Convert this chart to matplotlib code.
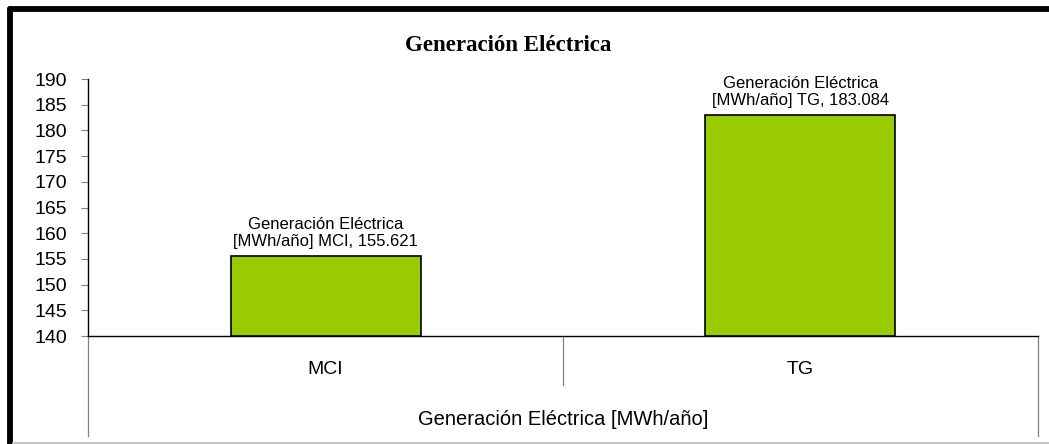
import matplotlib
matplotlib.use('Agg')
import matplotlib.pyplot as plt
from matplotlib.lines import Line2D

# Data
categories = ['MCI', 'TG']
generation = [155.621, 183.084]
y_ticks = [140, 145, 150, 155, 160, 165, 170, 175, 180, 185, 190]
series_name = 'Generación Eléctrica [MWh/año]'

plt.rcParams['font.family'] = ['Liberation Sans', 'DejaVu Sans']

fig = plt.figure(figsize=(10.49, 4.44), dpi=100)
ax = fig.add_axes([0.0839, 0.2432, 0.9056, 0.5788])

x = list(range(len(categories)))
ax.bar(x, [v - y_ticks[0] for v in generation], bottom=y_ticks[0], width=0.4,
       color='#99CC00', edgecolor='black', linewidth=1.2, zorder=3)

# data labels above each bar
for xi, cat, val in zip(x, categories, generation):
    ax.annotate('Generación Eléctrica\n[MWh/año] %s, %.3f' % (cat, val),
                xy=(xi, val), xytext=(0, 5), textcoords='offset points',
                ha='center', va='bottom', fontsize=12, linespacing=1.15)

ax.set_xlim(-0.5, len(categories) - 0.5)
ax.set_ylim(y_ticks[0], y_ticks[-1])
ax.set_yticks(y_ticks)
ax.tick_params(axis='y', direction='out', length=5, width=0.8, color='#808080',
               labelsize=14, pad=10)
ax.set_xticks(x)
ax.set_xticklabels(categories)
ax.tick_params(axis='x', length=0, labelsize=14, pad=18)
ax.set_xlabel(series_name, fontsize=14.5, labelpad=23)

for side in ['top', 'right']:
    ax.spines[side].set_visible(False)
ax.spines['left'].set_color('black')
ax.spines['bottom'].set_color('black')
ax.spines['left'].set_linewidth(1.0)
ax.spines['bottom'].set_linewidth(1.0)

# category group divider lines below the axis
trans = ax.get_xaxis_transform()
for xd, y0 in [(-0.5, -0.39), (0.5, -0.19), (1.5, -0.39)]:
    ax.add_line(Line2D([xd, xd], [0, y0], transform=trans, color='#808080',
                       linewidth=0.9, clip_on=False))

fig.suptitle('Generación Eléctrica', x=0.484, y=0.922, fontsize=16.5,
             fontweight='bold', family='Liberation Serif')

# chart area frame
fig.add_artist(Line2D([0.0093, 0.0093], [0, 0.980], color='black', linewidth=4.2,
                      solid_capstyle='round'))
fig.add_artist(Line2D([0.0093, 1.0], [0.980, 0.980], color='black', linewidth=4.2,
                      solid_capstyle='round'))
fig.add_artist(Line2D([0.012, 1.0], [0.002, 0.002], color='#c0c0c0', linewidth=1.2))

fig.savefig('out.png', dpi=100, facecolor='white')
